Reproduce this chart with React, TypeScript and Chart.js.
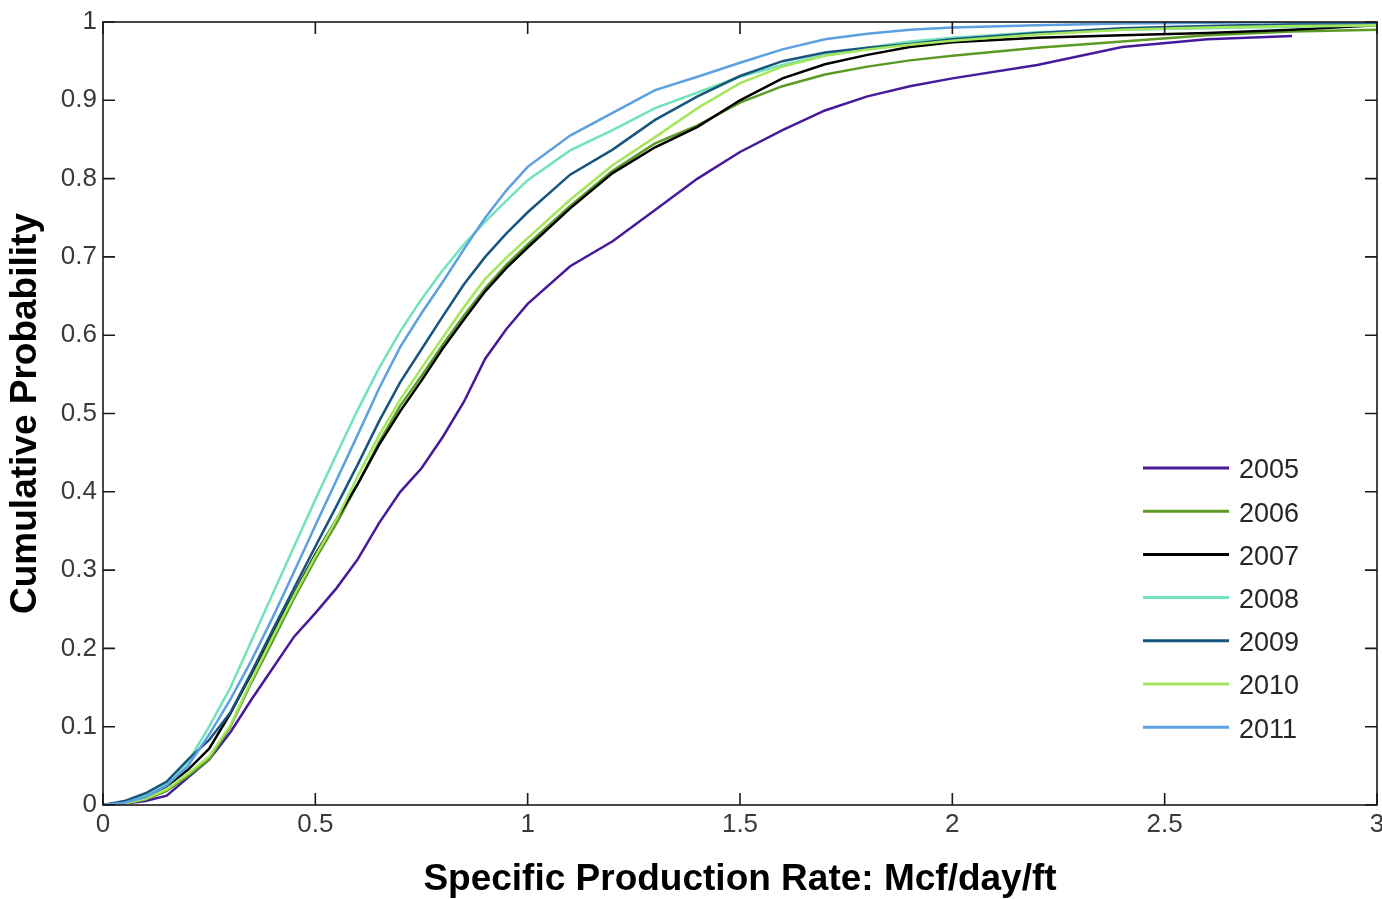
import React, { useEffect, useRef } from 'react';
import { Chart, registerables } from 'chart.js';

Chart.register(...registerables);

// Specific production rate (Mcf/day/ft) sample grid
const RATE = [0, 0.05, 0.1, 0.15, 0.2, 0.25, 0.3, 0.35, 0.4, 0.45, 0.5, 0.55, 0.6, 0.65, 0.7, 0.75, 0.8, 0.85, 0.9, 0.95, 1.0, 1.1, 1.2, 1.3, 1.4, 1.5, 1.6, 1.7, 1.8, 1.9, 2.0, 2.2, 2.4, 2.6, 2.8, 3.0];

const YEARS = ['2005', '2006', '2007', '2008', '2009', '2010', '2011'];

const P2005 = [0, 0.002, 0.005, 0.012, 0.035, 0.058, 0.093, 0.135, 0.175, 0.215, 0.245, 0.277, 0.314, 0.36, 0.4, 0.43, 0.47, 0.515, 0.57, 0.608, 0.64, 0.688, 0.72, 0.76, 0.8, 0.834, 0.862, 0.887, 0.905, 0.918, 0.928, 0.945, 0.968, 0.978, 0.982, null];
const P2006 = [0, 0.002, 0.007, 0.018, 0.037, 0.058, 0.1, 0.157, 0.21, 0.264, 0.314, 0.36, 0.41, 0.463, 0.51, 0.548, 0.588, 0.625, 0.66, 0.69, 0.716, 0.765, 0.81, 0.845, 0.868, 0.897, 0.918, 0.933, 0.943, 0.951, 0.957, 0.967, 0.975, 0.983, 0.988, 0.99];
const P2007 = [0, 0.003, 0.01, 0.024, 0.045, 0.072, 0.117, 0.168, 0.22, 0.27, 0.32, 0.365, 0.41, 0.46, 0.503, 0.542, 0.583, 0.62, 0.656, 0.686, 0.712, 0.762, 0.807, 0.84, 0.866, 0.9, 0.928, 0.946, 0.958, 0.968, 0.974, 0.98, 0.983, 0.986, 0.99, 0.996];
const P2008 = [0, 0.003, 0.012, 0.028, 0.055, 0.1, 0.15, 0.21, 0.27, 0.33, 0.39, 0.448, 0.505, 0.558, 0.605, 0.646, 0.683, 0.716, 0.745, 0.772, 0.798, 0.836, 0.862, 0.89, 0.91, 0.93, 0.945, 0.958, 0.967, 0.975, 0.98, 0.987, 0.99, 0.992, 0.994, 0.996];
const P2009 = [0, 0.005, 0.015, 0.03, 0.058, 0.083, 0.118, 0.17, 0.224, 0.277, 0.33, 0.382, 0.435, 0.49, 0.54, 0.582, 0.624, 0.665, 0.7, 0.73, 0.757, 0.805, 0.837, 0.875, 0.905, 0.931, 0.95, 0.961, 0.967, 0.972, 0.978, 0.986, 0.992, 0.995, 0.997, 0.998];
const P2010 = [0, 0.002, 0.008, 0.02, 0.04, 0.062, 0.102, 0.16, 0.215, 0.268, 0.318, 0.365, 0.42, 0.472, 0.518, 0.558, 0.597, 0.636, 0.672, 0.699, 0.724, 0.773, 0.817, 0.853, 0.89, 0.922, 0.943, 0.957, 0.965, 0.971, 0.976, 0.984, 0.99, 0.993, 0.995, 0.996];
const P2011 = [0, 0.003, 0.01, 0.025, 0.05, 0.09, 0.135, 0.185, 0.24, 0.298, 0.357, 0.415, 0.473, 0.532, 0.585, 0.628, 0.668, 0.71, 0.75, 0.785, 0.815, 0.855, 0.884, 0.913, 0.93, 0.948, 0.965, 0.978, 0.985, 0.99, 0.993, 0.996, 0.998, 0.999, 1.0, 1.0];

const COLORS = ['#47199b', '#5c9a26', '#000000', '#72e2bc', '#17557f', '#a4e65c', '#5c9fe2'];

const X_TICKS = [0, 0.5, 1, 1.5, 2, 2.5, 3];
const Y_TICKS = [0, 0.1, 0.2, 0.3, 0.4, 0.5, 0.6, 0.7, 0.8, 0.9, 1];

const X_TITLE = 'Specific Production Rate: Mcf/day/ft';
const Y_TITLE = 'Cumulative Probability';

const fmt = (v: number) => String(Number(v.toFixed(2)));

const framePlugin = {
  id: 'matlabFrame',
  afterDatasetsDraw(chart: any) {
    const { ctx, chartArea: a, scales } = chart;
    const xs = scales.x;
    const ys = scales.y;
    ctx.save();
    ctx.strokeStyle = '#1a1a1a';
    ctx.lineWidth = 1.6;
    ctx.strokeRect(a.left, a.top, a.right - a.left, a.bottom - a.top);
    const L = 12;
    ctx.beginPath();
    X_TICKS.forEach((t) => {
      const px = xs.getPixelForValue(t);
      ctx.moveTo(px, a.bottom);
      ctx.lineTo(px, a.bottom - L);
      ctx.moveTo(px, a.top);
      ctx.lineTo(px, a.top + L);
    });
    Y_TICKS.forEach((t) => {
      const py = ys.getPixelForValue(t);
      ctx.moveTo(a.left, py);
      ctx.lineTo(a.left + L, py);
      ctx.moveTo(a.right, py);
      ctx.lineTo(a.right - L, py);
    });
    ctx.stroke();

    // legend
    const lx0 = a.right - 234;
    const lx1 = a.right - 148;
    const tx = a.right - 138;
    const y0 = a.bottom - 337;
    const dy = 43.2;
    ctx.font = '27px "Liberation Sans", Arial, sans-serif';
    ctx.textBaseline = 'middle';
    ctx.textAlign = 'left';
    chart.data.datasets.forEach((ds: any, i: number) => {
      const y = y0 + i * dy;
      ctx.strokeStyle = ds.borderColor;
      ctx.lineWidth = 3;
      ctx.beginPath();
      ctx.moveTo(lx0, y);
      ctx.lineTo(lx1, y);
      ctx.stroke();
      ctx.fillStyle = '#262626';
      ctx.fillText(ds.label, tx, y + 3);
    });
    ctx.restore();
  },
};

export default function App() {
  const ref = useRef<HTMLCanvasElement>(null);

  useEffect(() => {
    document.body.style.margin = '0';
    const series = [P2005, P2006, P2007, P2008, P2009, P2010, P2011];
    const datasets = YEARS.map((label, i) => ({
      label,
      data: RATE.map((x, j) => ({ x, y: series[i][j] })).filter((p) => p.y !== null),
      borderColor: COLORS[i],
      backgroundColor: COLORS[i],
      borderWidth: 2.5,
      pointRadius: 0,
      tension: 0,
      fill: false,
      order: YEARS.length - 1 - i,
    }));

    const tickFont = { family: '"Liberation Sans", Arial, sans-serif', size: 26 };
    const titleFont = { family: '"Liberation Sans", Arial, sans-serif', size: 37, weight: 'bold' as const };

    const chart = new Chart(ref.current as HTMLCanvasElement, {
      type: 'line',
      data: { datasets },
      plugins: [framePlugin],
      options: {
        animation: false,
        responsive: false,
        maintainAspectRatio: false,
        layout: { padding: { top: 22, right: 5, left: 0, bottom: 0 } },
        plugins: {
          legend: { display: false },
          tooltip: { enabled: false },
        },
        scales: {
          x: {
            type: 'linear',
            min: 0,
            max: 3,
            afterBuildTicks: (s: any) => {
              s.ticks = X_TICKS.map((v) => ({ value: v }));
            },
            ticks: {
              callback: (v: any) => fmt(Number(v)),
              color: '#3a3a3a',
              font: tickFont,
              padding: 4,
              maxRotation: 0,
              autoSkip: false,
            },
            grid: { display: false, drawTicks: false },
            border: { display: false },
            title: {
              display: true,
              text: X_TITLE,
              color: '#000',
              font: titleFont,
              padding: { top: 0, bottom: -3 },
            },
            afterFit: (s: any) => {
              s.height = 94;
              s.paddingLeft = 0;
              s.paddingRight = 0;
            },
          },
          y: {
            type: 'linear',
            min: 0,
            max: 1,
            afterBuildTicks: (s: any) => {
              s.ticks = Y_TICKS.map((v) => ({ value: v }));
            },
            ticks: {
              callback: (v: any) => fmt(Number(v)),
              color: '#3a3a3a',
              font: tickFont,
              padding: 6,
              autoSkip: false,
            },
            grid: { display: false, drawTicks: false },
            border: { display: false },
            title: {
              display: true,
              text: Y_TITLE,
              color: '#000',
              font: titleFont,
              padding: { top: 4, bottom: 0 },
            },
            afterFit: (s: any) => {
              s.width = 103;
              s.paddingTop = 0;
              s.paddingBottom = 0;
            },
          },
        },
      } as any,
    });
    return () => chart.destroy();
  }, []);

  return (
    <div style={{ position: 'fixed', left: 0, top: 0, width: 1382, height: 899, background: '#fff' }}>
      <canvas ref={ref} width={1382} height={899} style={{ display: 'block', width: 1382, height: 899 }} />
    </div>
  );
}
